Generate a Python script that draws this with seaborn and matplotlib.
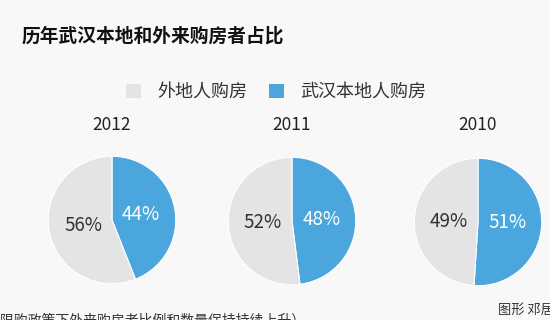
import matplotlib
matplotlib.use("Agg")
import matplotlib.pyplot as plt
import seaborn as sns
from matplotlib.patches import Patch

# data
years = ['2012', '2011', '2010']
local_share = [44, 48, 51]      # 武汉本地人购房
outside_share = [56, 52, 49]    # 外地人购房
series_names = ['外地人购房', '武汉本地人购房']
title = '历年武汉本地和外来购房者占比'
note = '（限购政策下外来购房者比例和数量保持持续上升）'
credit = '图形 邓居'

sns.set_theme(style='white')
plt.rcParams['font.family'] = ['Noto Sans CJK SC', 'DejaVu Sans']

bg = '#f8f8f8'
grey = '#e4e4e4'
blue = '#4ba6de'

W, H = 550, 320
fig = plt.figure(figsize=(5.5, 3.2), dpi=100, facecolor=bg)

# pie centres in pixels (from top-left), radius in pixels
centres = [(112, 220), (292, 221), (478, 222)]
r = 65

for year, loc, out, (cx, cy) in zip(years, local_share, outside_share, centres):
    ax = fig.add_axes([(cx - r) / W, (H - cy - r) / H, 2 * r / W, 2 * r / H])
    ax.set_facecolor(bg)
    wedges, texts, autotexts = ax.pie(
        [loc, out],
        colors=[blue, grey],
        startangle=90,
        counterclock=False,
        autopct='%.0f%%',
        pctdistance=0.46,
        wedgeprops=dict(edgecolor='white', linewidth=0.8),
        textprops=dict(fontsize=13.5),
    )
    autotexts[0].set_color('white')
    autotexts[1].set_color('#333333')
    ax.set_xlim(-1.02, 1.02)
    ax.set_ylim(-1.02, 1.02)
    ax.axis('off')
    fig.text(cx / W, 1 - 125 / H, year, ha='center', va='center',
             fontsize=12.5, color='#222222')

fig.text(22 / W, 1 - 36 / H, title, ha='left', va='center',
         fontsize=13.5, fontweight='bold', color='#111111')

handles = [Patch(facecolor=grey, edgecolor='none'),
           Patch(facecolor=blue, edgecolor='none')]
fig.legend(handles, series_names, loc='center', bbox_to_anchor=(276 / W, 1 - 92 / H),
           ncol=2, frameon=False, fontsize=13, handlelength=0.85, handleheight=0.85,
           handletextpad=0.9, columnspacing=1.2, labelcolor='#333333')

fig.text(-14 / W, 1 - 321 / H, note, ha='left', va='center', fontsize=10, color='#333333')
fig.text(498 / W, 1 - 310 / H, credit, ha='left', va='center', fontsize=9.5, color='#333333')

fig.savefig('out.png', dpi=100, facecolor=bg)
